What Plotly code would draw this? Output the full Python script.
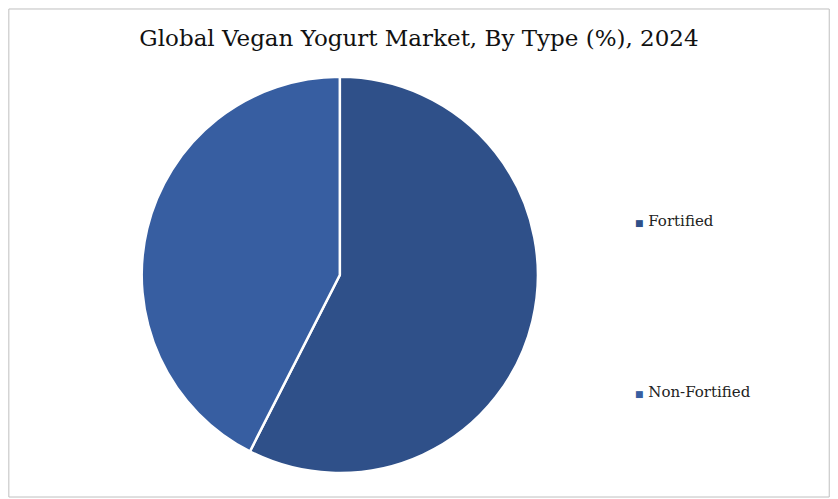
import plotly.graph_objects as go

labels = ["Fortified", "Non-Fortified"]
values = [57.5, 42.5]
colors = ["#2F5089", "#375EA1"]

dx, dy = 8/838, 8/499

fig = go.Figure(go.Pie(
    labels=labels, values=values, sort=False, direction="clockwise", rotation=0,
    marker=dict(colors=colors, line=dict(color="white", width=2.5)),
    textinfo="none", hoverinfo="label+percent", showlegend=False,
    domain=dict(x=[0.169 - dx, 0.642 - dx], y=[0.052 + dy, 0.846 + dy]),
))

ys = [1 - 221/499 + dy, 1 - 392/499 + dy]
for lab, col, y in zip(labels, colors, ys):
    fig.add_annotation(x=0.755 - dx, y=y, xref="paper", yref="paper", xanchor="left", yanchor="middle",
                       showarrow=False,
                       text=f"<span style='color:{col};font-size:9px'>■</span> {lab}",
                       font=dict(family="DejaVu Serif, serif", size=15, color="#222"))

fig.update_layout(
    width=838, height=499, paper_bgcolor="white", plot_bgcolor="white",
    margin=dict(l=0, r=0, t=0, b=0),
    title=dict(text="Global Vegan Yogurt Market, By Type (%), 2024", x=0.5 - dx, xanchor="center",
               y=1 - 38/499 + dy, yanchor="middle",
               font=dict(family="DejaVu Serif, serif", size=23, color="#111")),
    shapes=[dict(type="rect", xref="paper", yref="paper", x0=0.001, y0=0.02, x1=0.98, y1=0.998,
                 line=dict(color="#BFBFBF", width=1))],
)
fig.write_html("out.html")
